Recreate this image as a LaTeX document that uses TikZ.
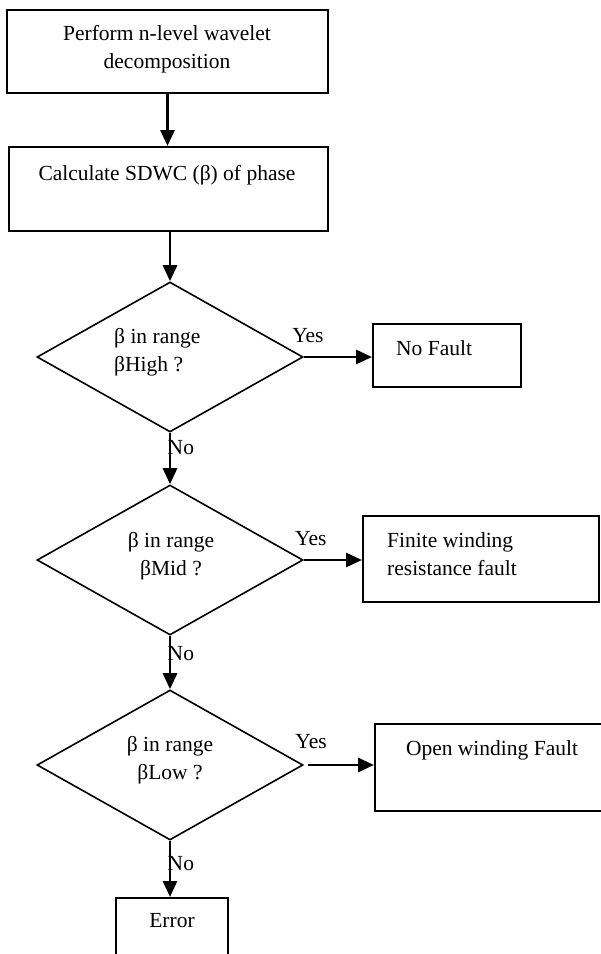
\documentclass[tikz,border=0pt]{standalone}
\usepackage{fontspec}
\setmainfont{Liberation Serif}
\usetikzlibrary{shapes.geometric,arrows.meta}

\tikzset{
  box/.style={draw, line width=2pt, inner sep=0pt},
  decision/.style={diamond, draw, line width=1.6pt, inner sep=0pt,
    minimum width=266pt, minimum height=150pt},
  arr/.style={line width=2.8pt, -{Triangle[length=16pt,width=14pt]}},
  txt/.style={inner sep=0pt, align=left},
}

\begin{document}
\begin{tikzpicture}[x=1pt,y=-1pt,font=\fontsize{21.5}{28.5}\selectfont]
    \clip (0,0) rectangle (601,954);

    % Boxes
    \node[box, minimum width=321pt, minimum height=83pt] (decomp) at (167.5,51.5) {};
    \node[box, minimum width=319pt, minimum height=84pt] (sdwc) at (168.5,189) {};
    \node[box, minimum width=148pt, minimum height=63pt] (nofault) at (447,355.5) {};
    \node[box, minimum width=236pt, minimum height=86pt] (finite) at (481,559) {};
    \node[box, minimum width=245pt, minimum height=87pt] (openw) at (497.5,767.5) {};
    \node[box, minimum width=112pt, minimum height=72pt] (error) at (172,934) {};

    % Decisions
    \node[decision] (high) at (170,357) {};
    \node[decision] (mid) at (170,560) {};
    \node[decision] (low) at (170,765) {};

    % Texts
    \node[txt, align=center] (decomptxt) at (167,49) {Perform n-level wavelet\\decomposition};
    \node[txt] (sdwctxt) at (167,175) {Calculate SDWC (β) of phase};
    \node[txt, anchor=west] (nofaulttxt) at (396,348) {No Fault};
    \node[txt, anchor=west] (finitetxt) at (387,554) {Finite winding\\resistance fault};
    \node[txt] (openwtxt) at (492,750) {Open winding Fault};
    \node[txt] (errortxt) at (172,921) {Error};
    \node[txt, anchor=west] (hightxt) at (114,352) {β in range\\βHigh ?};
    \node[txt, align=center] (midtxt) at (171,556) {β in range\\βMid ?};
    \node[txt, align=center] (lowtxt) at (170,760) {β in range\\βLow ?};

    % Connectors
    \draw[arr] (decomp.south) -- (decomp.south |- sdwc.north);
    \draw[arr] (high.north |- sdwc.south) -- (high.north);
    \draw[arr] (high.south) -- (mid.north) node[pos=0.28, right, xshift=-7pt] {No};
    \draw[arr] (mid.south) -- (low.north) node[pos=0.33, right, xshift=-7pt] {No};
    \draw[arr] (low.south) -- (low.south |- error.north) node[pos=0.4, right, xshift=-7pt] {No};

    \draw[arr] (high.east) -- (high.east -| nofault.west) node[pos=0.06, above=10pt] {Yes};
    \draw[arr] (mid.east) -- (mid.east -| finite.west) node[pos=0.12, above=10pt] {Yes};
    \draw[arr] ([xshift=4pt]low.east) -- (low.east -| openw.west) node[pos=0.05, above=12pt] {Yes};
\end{tikzpicture}
\end{document}
